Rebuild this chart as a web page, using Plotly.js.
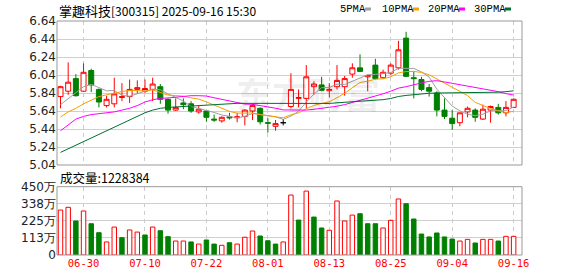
<!DOCTYPE html>
<html><head><meta charset="utf-8">
<script src="https://cdn.plot.ly/plotly-3.0.1.min.js"></script>
<style>html,body{margin:0;padding:0;background:#fff}#chart{width:578px;height:276px}</style>
</head><body><div id="chart"></div>
<script>
const dates = ['06-25','06-26','06-27','06-30','07-01','07-02','07-03','07-04','07-07','07-08',
  '07-09','07-10','07-11','07-14','07-15','07-16','07-17','07-18','07-21','07-22',
  '07-23','07-24','07-25','07-28','07-29','07-30','07-31','08-01','08-04','08-05',
  '08-06','08-07','08-08','08-11','08-12','08-13','08-14','08-15','08-18','08-19',
  '08-20','08-21','08-22','08-25','08-26','08-27','08-28','08-29','09-01','09-02',
  '09-03','09-04','09-05','09-08','09-09','09-10','09-11','09-12','09-15','09-16'];
const openP = [5.80,5.86,6.00,5.86,6.09,5.88,5.70,5.72,5.79,5.80,
  5.88,5.86,5.88,5.91,5.77,5.65,5.73,5.72,5.63,5.64,
  5.55,5.53,5.575,5.565,5.58,5.64,5.67,5.51,5.47,5.51,
  5.69,5.78,5.78,5.91,5.93,5.865,5.91,5.91,6.05,6.12,
  6.02,6.15,6.01,6.06,6.12,6.45,6.01,5.99,5.90,5.84,
  5.65,5.56,5.51,5.63,5.65,5.55,5.65,5.68,5.62,5.68];
const highP = [5.92,6.18,6.05,6.17,6.11,5.89,5.81,6.01,5.95,5.99,
  5.98,5.99,6.01,5.94,5.78,5.78,5.78,5.75,5.70,5.65,
  5.60,5.58,5.62,5.62,5.66,5.72,5.68,5.56,5.54,5.55,
  6.06,5.88,6.15,5.97,6.02,5.95,6.15,6.03,6.17,6.27,
  6.045,6.22,6.10,6.17,6.42,6.52,6.08,6.02,5.94,5.86,
  5.78,5.65,5.62,5.69,5.67,5.71,5.70,5.72,5.75,5.78];
const lowP = [5.67,5.82,5.80,5.85,5.85,5.68,5.68,5.68,5.75,5.73,
  5.83,5.84,5.75,5.72,5.61,5.64,5.66,5.62,5.61,5.52,
  5.52,5.51,5.545,5.515,5.48,5.54,5.49,5.40,5.42,5.48,
  5.67,5.68,5.67,5.82,5.86,5.79,5.88,5.81,6.01,6.08,
  5.86,5.99,6.00,6.04,6.10,6.02,5.78,5.86,5.80,5.58,
  5.55,5.43,5.47,5.57,5.52,5.54,5.51,5.60,5.58,5.68];
const closeP = [5.91,5.96,5.81,6.07,5.93,5.74,5.77,5.83,5.80,5.88,
  5.90,5.89,5.94,5.77,5.65,5.68,5.71,5.64,5.66,5.57,
  5.54,5.57,5.565,5.575,5.65,5.70,5.52,5.505,5.50,5.51,
  5.88,5.79,6.02,5.94,5.87,5.88,5.98,6.00,6.12,6.08,
  6.035,6.00,6.07,6.15,6.32,6.025,6.00,5.88,5.86,5.65,
  5.58,5.50,5.62,5.67,5.57,5.66,5.69,5.62,5.68,5.77];
// volume in 万
const volume = [296,314,224,290,206,147,86,184,114,165,
  151,132,184,160,121,92,92,86,72,99,
  72,64,81,72,117,158,125,94,72,86,
  395,230,421,250,178,163,356,224,263,272,
  206,206,178,228,369,338,237,138,119,145,
  119,105,92,103,79,103,103,92,123,122.8];
const ma5 = [5.71,5.78,5.84,5.91,5.936,5.902,5.864,5.868,5.814,5.804,
  5.836,5.86,5.882,5.876,5.83,5.786,5.75,5.69,5.668,5.652,
  5.624,5.596,5.581,5.564,5.58,5.612,5.602,5.59,5.575,5.547,
  5.583,5.637,5.74,5.828,5.90,5.90,5.938,5.934,5.97,6.012,
  6.043,6.047,6.061,6.067,6.115,6.113,6.113,6.075,6.017,5.883,
  5.794,5.694,5.642,5.604,5.588,5.604,5.642,5.642,5.644,5.684];
const ma10 = [5.573,5.63,5.67,5.72,5.76,5.80,5.82,5.84,5.855,5.87,
  5.869,5.862,5.875,5.845,5.817,5.811,5.805,5.786,5.772,5.741,
  5.705,5.673,5.636,5.616,5.616,5.618,5.599,5.586,5.570,5.564,
  5.598,5.62,5.665,5.702,5.724,5.742,5.788,5.837,5.899,5.956,
  5.972,5.993,5.998,6.019,6.064,6.078,6.08,6.068,6.042,5.999,
  5.954,5.904,5.859,5.811,5.736,5.699,5.668,5.642,5.624,5.636];
const ma20 = [5.42,5.49,5.55,5.58,5.60,5.61,5.62,5.63,5.65,5.67,
  5.70,5.74,5.765,5.78,5.785,5.795,5.805,5.81,5.81,5.806,
  5.787,5.768,5.756,5.73,5.717,5.714,5.702,5.686,5.671,5.652,
  5.651,5.646,5.65,5.659,5.67,5.68,5.693,5.711,5.734,5.76,
  5.785,5.806,5.831,5.86,5.894,5.91,5.934,5.952,5.97,5.977,
  5.963,5.948,5.928,5.915,5.90,5.888,5.874,5.855,5.833,5.817];
const ma30 = [5.18,5.22,5.26,5.30,5.34,5.38,5.42,5.46,5.50,5.54,
  5.58,5.62,5.65,5.67,5.68,5.685,5.69,5.70,5.705,5.71,
  5.715,5.72,5.72,5.725,5.725,5.725,5.725,5.725,5.725,5.725,
  5.724,5.718,5.725,5.721,5.719,5.724,5.731,5.736,5.747,5.754,
  5.758,5.762,5.766,5.779,5.801,5.813,5.822,5.830,5.837,5.840,
  5.841,5.839,5.841,5.844,5.841,5.840,5.845,5.849,5.855,5.864];
const tickLabels = ['06-30','07-10','07-22','08-01','08-13','08-25','09-04','09-16'];
const priceTicks = [5.04,5.24,5.44,5.64,5.84,6.04,6.24,6.44,6.64];
const volTicks = [0,112.5,225,337.5,450];
const volTickText = ['0','113万','225万','338万','450万'];
const maNames = ['5PMA','10PMA','20PMA','30PMA'];
const maColors = ['#a0a0a0','#f5a000','#ff00ff','#00702f'];
const stockName = '掌趣科技';
const stockInfo = '[300315] 2025-09-16 15:30';
const volLabel = '成交量:1228384';
const watermark = '东方财富';

const RED = '#ff0000', GREEN = '#008000';
const idx = dates.map((d, i) => i);
const pick = (arr, cond) => arr.filter((v, i) => cond(i));

function candle(cond, incColor, incFill, decColor, decFill) {
  return {
    type: 'candlestick', xaxis: 'x', yaxis: 'y',
    x: pick(idx, cond), open: pick(openP, cond), high: pick(highP, cond),
    low: pick(lowP, cond), close: pick(closeP, cond),
    increasing: {line: {color: incColor, width: 1}, fillcolor: incFill},
    decreasing: {line: {color: decColor, width: 1}, fillcolor: decFill},
    whiskerwidth: 0, hoverinfo: 'skip', showlegend: false
  };
}
const up = i => closeP[i] > openP[i];
const down = i => closeP[i] < openP[i];
const flat = i => closeP[i] === openP[i];
const volUp = i => i === 0 ? closeP[i] >= openP[i] : closeP[i] >= closeP[i - 1];
const volDown = i => !volUp(i);

const traces = [
  candle(up, RED, '#ffffff', RED, '#ffffff'),
  candle(down, GREEN, GREEN, GREEN, GREEN),
  candle(flat, '#000000', '#000000', '#000000', '#000000')
];
[ma5, ma10, ma20, ma30].forEach((m, k) => {
  traces.push({type: 'scatter', mode: 'lines', x: idx, y: m, xaxis: 'x', yaxis: 'y',
    line: {color: maColors[k], width: 1}, hoverinfo: 'skip', showlegend: false});
});
traces.push({type: 'bar', x: pick(idx, volUp), y: pick(volume, volUp), xaxis: 'x', yaxis: 'y2',
  width: 0.58, marker: {color: '#ffffff', line: {color: RED, width: 1}}, hoverinfo: 'skip', showlegend: false});
traces.push({type: 'bar', x: pick(idx, volDown), y: pick(volume, volDown), xaxis: 'x', yaxis: 'y2',
  width: 0.58, marker: {color: GREEN, line: {color: GREEN, width: 1}}, hoverinfo: 'skip', showlegend: false});

// pixel helpers for decoration placement (plot area 57..522 x, 21..255 y)
const px = p => (p - 57) / 465;
const py = p => (255 - p) / 234;

const shapes = [
  {type: 'rect', xref: 'paper', yref: 'paper', x0: 0, x1: 1, y0: py(165), y1: 1, line: {color: '#999', width: 1}},
  {type: 'rect', xref: 'paper', yref: 'paper', x0: 0, x1: 1, y0: 0, y1: py(186.7), line: {color: '#999', width: 1}}
];
const legendX = [338, 380, 425.7, 471.7];
const legendRect = [365, 413, 459, 505];
const annotations = [
  {text: stockName + '<span style="font-size:12px">' + stockInfo + '</span>', xref: 'paper', yref: 'paper',
    x: 0, y: py(10.5), xanchor: 'left', yanchor: 'middle',
    showarrow: false, font: {family: 'Noto Sans CJK SC', size: 13, color: '#000'}},
  {text: volLabel, xref: 'paper', yref: 'paper', x: px(57.5), y: py(177.7), xanchor: 'left', yanchor: 'middle',
    showarrow: false, font: {family: 'Noto Sans CJK SC', size: 12.5, color: '#000'}},
  {text: watermark, xref: 'paper', yref: 'paper', x: px(308), y: py(93), xanchor: 'center', yanchor: 'middle',
    showarrow: false, font: {family: 'Noto Sans CJK SC', size: 36, color: 'rgba(0,0,0,0.07)', weight: 'bold'}}
];
maNames.forEach((n, k) => {
  annotations.push({text: n, xref: 'paper', yref: 'paper', x: px(legendX[k]), y: py(9), xanchor: 'left', yanchor: 'middle',
    showarrow: false, font: {family: 'Liberation Mono', size: 10.5, color: '#000'}});
  shapes.push({type: 'rect', xref: 'paper', yref: 'paper', x0: px(legendRect[k]), x1: px(legendRect[k] + 6),
    y0: py(10.5), y1: py(7.5), fillcolor: maColors[k], line: {width: 0}});
});

const layout = {
  width: 578, height: 276, margin: {l: 57, r: 56, t: 21, b: 21},
  paper_bgcolor: '#fff', plot_bgcolor: '#fff', showlegend: false,
  boxgap: 0.07, boxgroupgap: 0.3, barmode: 'overlay',
  xaxis: {range: [-0.456, 60.09], tickmode: 'array', tickvals: tickLabels.map(t => dates.indexOf(t)),
    ticktext: tickLabels, showgrid: true, gridcolor: '#cccccc', griddash: '4px,4px', gridwidth: 1,
    zeroline: false, showline: false, ticks: '', anchor: 'y2', color: RED,
    tickfont: {family: 'DejaVu Sans Mono', size: 10.5, color: RED},
    rangeslider: {visible: false}, fixedrange: true},
  yaxis: {domain: [py(165), 1], range: [5.04, 6.64], tickmode: 'array', tickvals: priceTicks,
    ticktext: priceTicks.map(v => v.toFixed(2)), showgrid: true, gridcolor: '#cfcfcf', zeroline: false,
    ticks: '', tickfont: {family: 'DejaVu Sans', size: 12, color: '#222'}, fixedrange: true},
  yaxis2: {domain: [0, py(186.7)], range: [0, 450], tickmode: 'array', tickvals: volTicks, ticktext: volTickText,
    showgrid: true, gridcolor: '#cfcfcf', zeroline: false, ticks: '',
    tickfont: {family: 'DejaVu Sans', size: 12, color: '#222'}, fixedrange: true},
  shapes: shapes, annotations: annotations
};
Plotly.newPlot('chart', traces, layout, {displayModeBar: false, staticPlot: true});
</script></body></html>
